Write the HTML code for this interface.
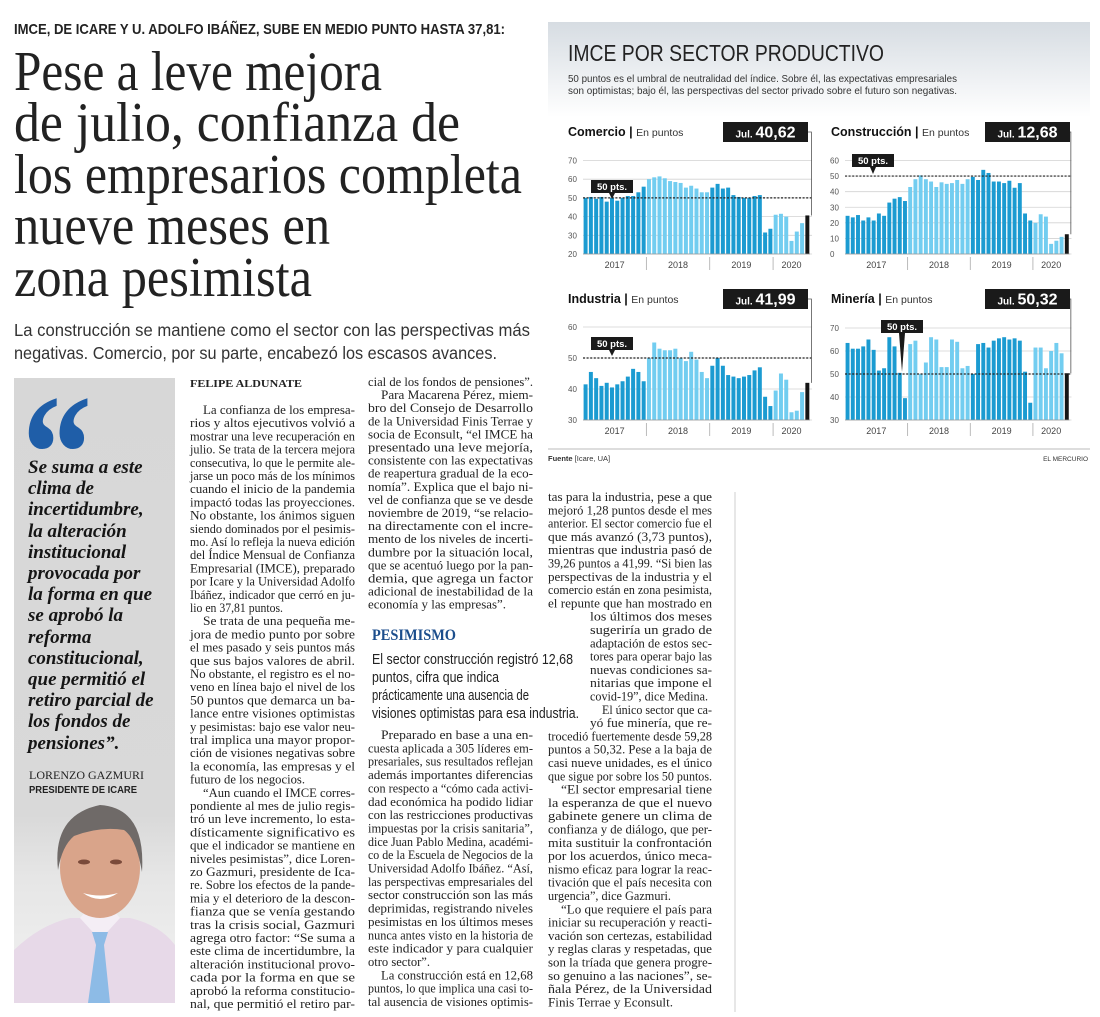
<!DOCTYPE html>
<html><head><meta charset="utf-8"><style>
html,body{margin:0;padding:0;background:#fff;width:1100px;height:1017px;overflow:hidden}
svg{display:block}
.b{font-family:"Liberation Serif",serif;font-size:12.6px;fill:#222}
.q{font-family:"Liberation Serif",serif;font-size:19px;font-weight:bold;font-style:italic;fill:#151515}
.s{font-family:"Liberation Sans",sans-serif}
</style></head><body>
<svg id="page" width="1100" height="1017" viewBox="0 0 1100 1017" xmlns="http://www.w3.org/2000/svg">
<defs>
<linearGradient id="hg" x1="0" y1="0" x2="0" y2="1"><stop offset="0" stop-color="#d6dce2"/><stop offset="1" stop-color="#ffffff"/></linearGradient>
<linearGradient id="qg" x1="0" y1="0" x2="0" y2="1"><stop offset="0" stop-color="#d7d7d7"/><stop offset="0.7" stop-color="#d9d9d9"/><stop offset="0.8" stop-color="#e6e6e6"/><stop offset="1" stop-color="#f2f2f2"/></linearGradient>
</defs>

<!-- Headline block -->
<text class="s" x="14" y="34" font-size="15" font-weight="bold" fill="#222" textLength="491" lengthAdjust="spacingAndGlyphs">IMCE, DE ICARE Y U. ADOLFO IBÁÑEZ, SUBE EN MEDIO PUNTO HASTA 37,81:</text>
<g font-family="Liberation Serif, serif" font-size="56" fill="#222">
<text x="14" y="90" textLength="368" lengthAdjust="spacingAndGlyphs">Pese a leve mejora</text>
<text x="14" y="141" textLength="446" lengthAdjust="spacingAndGlyphs">de julio, confianza de</text>
<text x="14" y="193" textLength="508" lengthAdjust="spacingAndGlyphs">los empresarios completa</text>
<text x="14" y="244" textLength="316" lengthAdjust="spacingAndGlyphs">nueve meses en</text>
<text x="14" y="296" textLength="298" lengthAdjust="spacingAndGlyphs">zona pesimista</text>
</g>
<g class="s" font-size="17.5" fill="#333">
<text x="14" y="336" textLength="516" lengthAdjust="spacingAndGlyphs">La construcción se mantiene como el sector con las perspectivas más</text>
<text x="14" y="359" textLength="483" lengthAdjust="spacingAndGlyphs">negativas. Comercio, por su parte, encabezó los escasos avances.</text>
</g>

<!-- Quote box -->
<rect x="14" y="378" width="161" height="625" fill="url(#qg)"/>
<text x="22" y="510" font-family="Liberation Serif, serif" font-weight="bold" font-size="168" fill="#1f5ea8" textLength="70" lengthAdjust="spacingAndGlyphs">“</text>
<g class="q">
<text x="28" y="473">Se suma a este</text>
<text x="28" y="494">clima de</text>
<text x="28" y="515">incertidumbre,</text>
<text x="28" y="537">la alteración</text>
<text x="28" y="558">institucional</text>
<text x="28" y="579">provocada por</text>
<text x="28" y="600">la forma en que</text>
<text x="28" y="621">se aprobó la</text>
<text x="28" y="643">reforma</text>
<text x="28" y="664">constitucional,</text>
<text x="28" y="685">que permitió el</text>
<text x="28" y="706">retiro parcial de</text>
<text x="28" y="727">los fondos de</text>
<text x="28" y="749">pensiones”.</text>
</g>
<text x="29" y="779" font-family="Liberation Serif, serif" font-size="11.5" fill="#222" textLength="115" lengthAdjust="spacingAndGlyphs">LORENZO GAZMURI</text>
<text class="s" x="29" y="793" font-size="10" font-weight="bold" fill="#222" textLength="108" lengthAdjust="spacingAndGlyphs">PRESIDENTE DE ICARE</text>
<g>
<path d="M14 950 Q40 925 70 918 L130 918 Q160 925 175 945 L175 1003 L14 1003 Z" fill="#e7d9e8"/>
<path d="M80 918 L100 940 L120 918 L115 912 L85 912 Z" fill="#f4eef5"/>
<path d="M92 932 L108 932 L104 945 L110 1003 L88 1003 L96 945 Z" fill="#8dbbe6"/>
<ellipse cx="100" cy="868" rx="40" ry="50" fill="#d9a48a"/>
<path d="M58 870 Q52 815 100 805 Q146 808 142 872 Q136 838 124 830 Q100 826 74 836 Q62 846 58 870 Z" fill="#6f6a68"/>
<ellipse cx="84" cy="862" rx="6" ry="2.5" fill="#7a4a3a"/>
<ellipse cx="116" cy="862" rx="6" ry="2.5" fill="#7a4a3a"/>
<path d="M83 893 Q100 905 118 893 Q100 898 83 893 Z" fill="#fff"/>
</g>

<!-- Body column 1 -->
<g class="b">
<text x="190" y="387" font-weight="bold" font-size="11" textLength="112" lengthAdjust="spacingAndGlyphs">FELIPE ALDUNATE</text>
<text x="203" y="414" textLength="152" lengthAdjust="spacingAndGlyphs">La confianza de los empresa-</text>
<text x="190" y="427.2" textLength="165" lengthAdjust="spacingAndGlyphs">rios y altos ejecutivos volvió a</text>
<text x="190" y="440.4" textLength="165" lengthAdjust="spacingAndGlyphs">mostrar una leve recuperación en</text>
<text x="190" y="453.6" textLength="165" lengthAdjust="spacingAndGlyphs">julio. Se trata de la tercera mejora</text>
<text x="190" y="466.8" textLength="165" lengthAdjust="spacingAndGlyphs">consecutiva, lo que le permite ale-</text>
<text x="190" y="480" textLength="165" lengthAdjust="spacingAndGlyphs">jarse un poco más de los mínimos</text>
<text x="190" y="493.2" textLength="165" lengthAdjust="spacingAndGlyphs">cuando el inicio de la pandemia</text>
<text x="190" y="506.4" textLength="165" lengthAdjust="spacingAndGlyphs">impactó todas las proyecciones.</text>
<text x="190" y="519.6" textLength="165" lengthAdjust="spacingAndGlyphs">No obstante, los ánimos siguen</text>
<text x="190" y="532.8" textLength="165" lengthAdjust="spacingAndGlyphs">siendo dominados por el pesimis-</text>
<text x="190" y="546" textLength="165" lengthAdjust="spacingAndGlyphs">mo. Así lo refleja la nueva edición</text>
<text x="190" y="559.2" textLength="165" lengthAdjust="spacingAndGlyphs">del Índice Mensual de Confianza</text>
<text x="190" y="572.4" textLength="165" lengthAdjust="spacingAndGlyphs">Empresarial (IMCE), preparado</text>
<text x="190" y="585.6" textLength="165" lengthAdjust="spacingAndGlyphs">por Icare y la Universidad Adolfo</text>
<text x="190" y="598.8" textLength="165" lengthAdjust="spacingAndGlyphs">Ibáñez, indicador que cerró en ju-</text>
<text x="190" y="612" textLength="93" lengthAdjust="spacingAndGlyphs">lio en 37,81 puntos.</text>
<text x="203" y="625.2" textLength="152" lengthAdjust="spacingAndGlyphs">Se trata de una pequeña me-</text>
<text x="190" y="638.4" textLength="165" lengthAdjust="spacingAndGlyphs">jora de medio punto por sobre</text>
<text x="190" y="651.6" textLength="165" lengthAdjust="spacingAndGlyphs">el mes pasado y seis puntos más</text>
<text x="190" y="664.8" textLength="165" lengthAdjust="spacingAndGlyphs">que sus bajos valores de abril.</text>
<text x="190" y="678" textLength="165" lengthAdjust="spacingAndGlyphs">No obstante, el registro es el no-</text>
<text x="190" y="691.2" textLength="165" lengthAdjust="spacingAndGlyphs">veno en línea bajo el nivel de los</text>
<text x="190" y="704.4" textLength="165" lengthAdjust="spacingAndGlyphs">50 puntos que demarca un ba-</text>
<text x="190" y="717.6" textLength="165" lengthAdjust="spacingAndGlyphs">lance entre visiones optimistas</text>
<text x="190" y="730.8" textLength="165" lengthAdjust="spacingAndGlyphs">y pesimistas: bajo ese valor neu-</text>
<text x="190" y="744" textLength="165" lengthAdjust="spacingAndGlyphs">tral implica una mayor propor-</text>
<text x="190" y="757.2" textLength="165" lengthAdjust="spacingAndGlyphs">ción de visiones negativas sobre</text>
<text x="190" y="770.4" textLength="165" lengthAdjust="spacingAndGlyphs">la economía, las empresas y el</text>
<text x="190" y="783.6" textLength="115" lengthAdjust="spacingAndGlyphs">futuro de los negocios.</text>
<text x="203" y="796.8" textLength="152" lengthAdjust="spacingAndGlyphs">“Aun cuando el IMCE corres-</text>
<text x="190" y="810" textLength="165" lengthAdjust="spacingAndGlyphs">pondiente al mes de julio regis-</text>
<text x="190" y="823.2" textLength="165" lengthAdjust="spacingAndGlyphs">tró un leve incremento, lo esta-</text>
<text x="190" y="836.4" textLength="165" lengthAdjust="spacingAndGlyphs">dísticamente significativo es</text>
<text x="190" y="849.6" textLength="165" lengthAdjust="spacingAndGlyphs">que el indicador se mantiene en</text>
<text x="190" y="862.8" textLength="165" lengthAdjust="spacingAndGlyphs">niveles pesimistas”, dice Loren-</text>
<text x="190" y="876" textLength="165" lengthAdjust="spacingAndGlyphs">zo Gazmuri, presidente de Ica-</text>
<text x="190" y="889.2" textLength="165" lengthAdjust="spacingAndGlyphs">re. Sobre los efectos de la pande-</text>
<text x="190" y="902.4" textLength="165" lengthAdjust="spacingAndGlyphs">mia y el deterioro de la descon-</text>
<text x="190" y="915.6" textLength="165" lengthAdjust="spacingAndGlyphs">fianza que se venía gestando</text>
<text x="190" y="928.8" textLength="165" lengthAdjust="spacingAndGlyphs">tras la crisis social, Gazmuri</text>
<text x="190" y="942" textLength="165" lengthAdjust="spacingAndGlyphs">agrega otro factor: “Se suma a</text>
<text x="190" y="955.2" textLength="165" lengthAdjust="spacingAndGlyphs">este clima de incertidumbre, la</text>
<text x="190" y="968.4" textLength="165" lengthAdjust="spacingAndGlyphs">alteración institucional provo-</text>
<text x="190" y="981.6" textLength="165" lengthAdjust="spacingAndGlyphs">cada por la forma en que se</text>
<text x="190" y="994.8" textLength="165" lengthAdjust="spacingAndGlyphs">aprobó la reforma constitucio-</text>
<text x="190" y="1008" textLength="165" lengthAdjust="spacingAndGlyphs">nal, que permitió el retiro par-</text>
</g>

<!-- Body column 2 -->
<g class="b">
<text x="368" y="386" textLength="165" lengthAdjust="spacingAndGlyphs">cial de los fondos de pensiones”.</text>
<text x="381" y="399.1" textLength="152" lengthAdjust="spacingAndGlyphs">Para Macarena Pérez, miem-</text>
<text x="368" y="412.2" textLength="165" lengthAdjust="spacingAndGlyphs">bro del Consejo de Desarrollo</text>
<text x="368" y="425.3" textLength="165" lengthAdjust="spacingAndGlyphs">de la Universidad Finis Terrae y</text>
<text x="368" y="438.4" textLength="165" lengthAdjust="spacingAndGlyphs">socia de Econsult, “el IMCE ha</text>
<text x="368" y="451.5" textLength="165" lengthAdjust="spacingAndGlyphs">presentado una leve mejoría,</text>
<text x="368" y="464.6" textLength="165" lengthAdjust="spacingAndGlyphs">consistente con las expectativas</text>
<text x="368" y="477.7" textLength="165" lengthAdjust="spacingAndGlyphs">de reapertura gradual de la eco-</text>
<text x="368" y="490.8" textLength="165" lengthAdjust="spacingAndGlyphs">nomía”. Explica que el bajo ni-</text>
<text x="368" y="503.9" textLength="165" lengthAdjust="spacingAndGlyphs">vel de confianza que se ve desde</text>
<text x="368" y="517" textLength="165" lengthAdjust="spacingAndGlyphs">noviembre de 2019, “se relacio-</text>
<text x="368" y="530.1" textLength="165" lengthAdjust="spacingAndGlyphs">na directamente con el incre-</text>
<text x="368" y="543.2" textLength="165" lengthAdjust="spacingAndGlyphs">mento de los niveles de incerti-</text>
<text x="368" y="556.3" textLength="165" lengthAdjust="spacingAndGlyphs">dumbre por la situación local,</text>
<text x="368" y="569.4" textLength="165" lengthAdjust="spacingAndGlyphs">que se acentuó luego por la pan-</text>
<text x="368" y="582.5" textLength="165" lengthAdjust="spacingAndGlyphs">demia, que agrega un factor</text>
<text x="368" y="595.6" textLength="165" lengthAdjust="spacingAndGlyphs">adicional de inestabilidad de la</text>
<text x="368" y="608.7" textLength="138" lengthAdjust="spacingAndGlyphs">economía y las empresas”.</text>

<text x="381" y="739" textLength="152" lengthAdjust="spacingAndGlyphs">Preparado en base a una en-</text>
<text x="368" y="752.35" textLength="165" lengthAdjust="spacingAndGlyphs">cuesta aplicada a 305 líderes em-</text>
<text x="368" y="765.7" textLength="165" lengthAdjust="spacingAndGlyphs">presariales, sus resultados reflejan</text>
<text x="368" y="779.05" textLength="165" lengthAdjust="spacingAndGlyphs">además importantes diferencias</text>
<text x="368" y="792.4" textLength="165" lengthAdjust="spacingAndGlyphs">con respecto a “cómo cada activi-</text>
<text x="368" y="805.75" textLength="165" lengthAdjust="spacingAndGlyphs">dad económica ha podido lidiar</text>
<text x="368" y="819.1" textLength="165" lengthAdjust="spacingAndGlyphs">con las restricciones productivas</text>
<text x="368" y="832.45" textLength="165" lengthAdjust="spacingAndGlyphs">impuestas por la crisis sanitaria”,</text>
<text x="368" y="845.8" textLength="165" lengthAdjust="spacingAndGlyphs">dice Juan Pablo Medina, académi-</text>
<text x="368" y="859.15" textLength="165" lengthAdjust="spacingAndGlyphs">co de la Escuela de Negocios de la</text>
<text x="368" y="872.5" textLength="165" lengthAdjust="spacingAndGlyphs">Universidad Adolfo Ibáñez. “Así,</text>
<text x="368" y="885.85" textLength="165" lengthAdjust="spacingAndGlyphs">las perspectivas empresariales del</text>
<text x="368" y="899.2" textLength="165" lengthAdjust="spacingAndGlyphs">sector construcción son las más</text>
<text x="368" y="912.55" textLength="165" lengthAdjust="spacingAndGlyphs">deprimidas, registrando niveles</text>
<text x="368" y="925.9" textLength="165" lengthAdjust="spacingAndGlyphs">pesimistas en los últimos meses</text>
<text x="368" y="939.25" textLength="165" lengthAdjust="spacingAndGlyphs">nunca antes visto en la historia de</text>
<text x="368" y="952.6" textLength="165" lengthAdjust="spacingAndGlyphs">este indicador y para cualquier</text>
<text x="368" y="965.95" textLength="62" lengthAdjust="spacingAndGlyphs">otro sector”.</text>
<text x="381" y="979.3" textLength="152" lengthAdjust="spacingAndGlyphs">La construcción está en 12,68</text>
<text x="368" y="992.65" textLength="165" lengthAdjust="spacingAndGlyphs">puntos, lo que implica una casi to-</text>
<text x="368" y="1006" textLength="165" lengthAdjust="spacingAndGlyphs">tal ausencia de visiones optimis-</text>
</g>

<!-- Pesimismo box -->
<g>
<text x="372" y="640" font-family="Liberation Serif, serif" font-weight="bold" font-size="16" fill="#1c4e8c" textLength="84" lengthAdjust="spacingAndGlyphs">PESIMISMO</text>
<g class="s" font-size="14.5" fill="#222">
<text x="372" y="664" textLength="201" lengthAdjust="spacingAndGlyphs">El sector construcción registró 12,68</text>
<text x="372" y="682" textLength="127" lengthAdjust="spacingAndGlyphs">puntos, cifra que indica</text>
<text x="372" y="700" textLength="157" lengthAdjust="spacingAndGlyphs">prácticamente una ausencia de</text>
<text x="372" y="718" textLength="207" lengthAdjust="spacingAndGlyphs">visiones optimistas para esa industria.</text>
</g>
</g>

<!-- Body column 3 -->
<line x1="735" y1="492" x2="735" y2="1012" stroke="#cfcfcf" stroke-width="1"/>
<g class="b">
<text x="548" y="501" textLength="164" lengthAdjust="spacingAndGlyphs">tas para la industria, pese a que</text>
<text x="548" y="514.3" textLength="164" lengthAdjust="spacingAndGlyphs">mejoró 1,28 puntos desde el mes</text>
<text x="548" y="527.6" textLength="164" lengthAdjust="spacingAndGlyphs">anterior. El sector comercio fue el</text>
<text x="548" y="540.9" textLength="164" lengthAdjust="spacingAndGlyphs">que más avanzó (3,73 puntos),</text>
<text x="548" y="554.2" textLength="164" lengthAdjust="spacingAndGlyphs">mientras que industria pasó de</text>
<text x="548" y="567.5" textLength="164" lengthAdjust="spacingAndGlyphs">39,26 puntos a 41,99. “Si bien las</text>
<text x="548" y="580.8" textLength="164" lengthAdjust="spacingAndGlyphs">perspectivas de la industria y el</text>
<text x="548" y="594.1" textLength="164" lengthAdjust="spacingAndGlyphs">comercio están en zona pesimista,</text>
<text x="548" y="607.4" textLength="164" lengthAdjust="spacingAndGlyphs">el repunte que han mostrado en</text>
<text x="590" y="620.7" textLength="122" lengthAdjust="spacingAndGlyphs">los últimos dos meses</text>
<text x="590" y="634" textLength="122" lengthAdjust="spacingAndGlyphs">sugeriría un grado de</text>
<text x="590" y="647.3" textLength="122" lengthAdjust="spacingAndGlyphs">adaptación de estos sec-</text>
<text x="590" y="660.6" textLength="122" lengthAdjust="spacingAndGlyphs">tores para operar bajo las</text>
<text x="590" y="673.9" textLength="122" lengthAdjust="spacingAndGlyphs">nuevas condiciones sa-</text>
<text x="590" y="687.2" textLength="122" lengthAdjust="spacingAndGlyphs">nitarias que impone el</text>
<text x="590" y="700.5" textLength="118" lengthAdjust="spacingAndGlyphs">covid-19”, dice Medina.</text>
<text x="602" y="713.8" textLength="110" lengthAdjust="spacingAndGlyphs">El único sector que ca-</text>
<text x="590" y="727.1" textLength="122" lengthAdjust="spacingAndGlyphs">yó fue minería, que re-</text>
<text x="548" y="740.4" textLength="164" lengthAdjust="spacingAndGlyphs">trocedió fuertemente desde 59,28</text>
<text x="548" y="753.7" textLength="164" lengthAdjust="spacingAndGlyphs">puntos a 50,32. Pese a la baja de</text>
<text x="548" y="767" textLength="164" lengthAdjust="spacingAndGlyphs">casi nueve unidades, es el único</text>
<text x="548" y="780.3" textLength="164" lengthAdjust="spacingAndGlyphs">que sigue por sobre los 50 puntos.</text>
<text x="561" y="793.6" textLength="151" lengthAdjust="spacingAndGlyphs">“El sector empresarial tiene</text>
<text x="548" y="806.9" textLength="164" lengthAdjust="spacingAndGlyphs">la esperanza de que el nuevo</text>
<text x="548" y="820.2" textLength="164" lengthAdjust="spacingAndGlyphs">gabinete genere un clima de</text>
<text x="548" y="833.5" textLength="164" lengthAdjust="spacingAndGlyphs">confianza y de diálogo, que per-</text>
<text x="548" y="846.8" textLength="164" lengthAdjust="spacingAndGlyphs">mita sustituir la confrontación</text>
<text x="548" y="860.1" textLength="164" lengthAdjust="spacingAndGlyphs">por los acuerdos, único meca-</text>
<text x="548" y="873.4" textLength="164" lengthAdjust="spacingAndGlyphs">nismo eficaz para lograr la reac-</text>
<text x="548" y="886.7" textLength="164" lengthAdjust="spacingAndGlyphs">tivación que el país necesita con</text>
<text x="548" y="900" textLength="123" lengthAdjust="spacingAndGlyphs">urgencia”, dice Gazmuri.</text>
<text x="561" y="913.3" textLength="151" lengthAdjust="spacingAndGlyphs">“Lo que requiere el país para</text>
<text x="548" y="926.6" textLength="164" lengthAdjust="spacingAndGlyphs">iniciar su recuperación y reacti-</text>
<text x="548" y="939.9" textLength="164" lengthAdjust="spacingAndGlyphs">vación son certezas, estabilidad</text>
<text x="548" y="953.2" textLength="164" lengthAdjust="spacingAndGlyphs">y reglas claras y respetadas, que</text>
<text x="548" y="966.5" textLength="164" lengthAdjust="spacingAndGlyphs">son la tríada que genera progre-</text>
<text x="548" y="979.8" textLength="164" lengthAdjust="spacingAndGlyphs">so genuino a las naciones”, se-</text>
<text x="548" y="993.1" textLength="164" lengthAdjust="spacingAndGlyphs">ñala Pérez, de la Universidad</text>
<text x="548" y="1006.4" textLength="125" lengthAdjust="spacingAndGlyphs">Finis Terrae y Econsult.</text>
</g>

<!-- Infographic header -->
<rect x="548" y="22" width="542" height="95" fill="url(#hg)"/>
<text class="s" x="568" y="61" font-size="23" fill="#222" textLength="316" lengthAdjust="spacingAndGlyphs">IMCE POR SECTOR PRODUCTIVO</text>
<text class="s" font-size="10.5" fill="#333">
<tspan x="568" y="82" textLength="389" lengthAdjust="spacingAndGlyphs">50 puntos es el umbral de neutralidad del índice. Sobre él, las expectativas empresariales</tspan>
<tspan x="568" y="94" textLength="389" lengthAdjust="spacingAndGlyphs">son optimistas; bajo él, las perspectivas del sector privado sobre el futuro son negativas.</tspan>
</text>
<g class="s" fill="#111">
<text x="568" y="136" font-size="12.5" font-weight="bold">Comercio <tspan font-weight="bold">|</tspan> <tspan font-weight="normal" font-size="10.5" fill="#333">En puntos</tspan></text>
<text x="831" y="136" font-size="12.5" font-weight="bold">Construcción <tspan>|</tspan> <tspan font-weight="normal" font-size="10.5" fill="#333">En puntos</tspan></text>
<text x="568" y="303" font-size="12.5" font-weight="bold">Industria <tspan>|</tspan> <tspan font-weight="normal" font-size="10.5" fill="#333">En puntos</tspan></text>
<text x="831" y="303" font-size="12.5" font-weight="bold">Minería <tspan>|</tspan> <tspan font-weight="normal" font-size="10.5" fill="#333">En puntos</tspan></text>
</g>
<g id="charts"></g>
<line x1="548" y1="449" x2="1090" y2="449" stroke="#bbb" stroke-width="1"/>
<text class="s" x="548" y="461" font-size="7.5" fill="#333"><tspan font-weight="bold">Fuente</tspan> [Icare, UA]</text>
<text class="s" x="1088" y="461" font-size="6.5" fill="#333" text-anchor="end">EL MERCURIO</text>
</svg>

<script>
const years = ["2017", "2018", "2019", "2020"];
const comercioValues = [50,50.5,49.5,50.5,48,50,48.5,50,51,51,53,56, 60,61,61.5,60.5,59,58.5,58,55.5,56.5,55,53,53, 55.5,57.5,55,55.5,51.5,50.5,50,50,51,51.5,31.5,33.5, 41,41.5,40,27,32,36.5,40.62];
const construccionValues = [24.5,23.5,25,21.5,23.5,21.5,26,24.5,33,35.5,36.5,34, 43,48,50.5,48,46.5,43,46,45,45.5,47.5,45,48, 49.5,47.5,54,52,46.5,46.5,45.5,47,42.5,45.5,26,21.5, 20,25.5,24,6.5,8.5,11,12.68];
const industriaValues = [41.5,45.5,43.5,41,42,40.5,41.5,42.5,44,46.5,45.5,42.5, 50,55,53,52.5,52.5,53,50,49,52,49.5,45.5,43.5, 47.5,50,47.5,44.5,44,43.5,44,44.5,46,47,37.5,34.5, 39.5,45,43,32.5,33,39,41.99];
const mineriaValues = [63.5,61,61,62,65,60.5,51.5,52.5,66,62,50.5,39.5, 63,64.5,50,55,66,65,53,53,65,64,52.5,53.5, 50,63,63.5,61.5,64.5,65.5,66,65,65.5,64.5,51,37.5, 61.5,61.5,52.5,60,63.5,59,50.32];
const comercioTicks = [20,30,40,50,60,70];
const construccionTicks = [0,10,20,30,40,50,60];
const industriaTicks = [30,40,50,60];
const mineriaTicks = [30,40,50,60,70];
const latestLabels = ["40,62", "12,68", "41,99", "50,32"];
const threshold = 50;

const NS = "http://www.w3.org/2000/svg";
const root = document.getElementById("charts");
function mk(tag, attrs, parent) {
  const e = document.createElementNS(NS, tag);
  for (const k in attrs) e.setAttribute(k, attrs[k]);
  (parent || root).appendChild(e);
  return e;
}
function drawChart(name, values, ticks, label, geo) {
  const g = mk("g", {});
  
  
  const min = ticks[0], max = ticks[ticks.length - 1];
  const y = v => geo.yBot - (v - min) / (max - min) * (geo.yBot - geo.yTop);
  const x = i => geo.x0 + i * geo.step;
  ticks.forEach(t => {
    const ln = mk("line", {x1: geo.x0, x2: geo.x0 + geo.step * values.length + 2, y1: y(t), y2: y(t), stroke: "#d2d2d2", "stroke-width": 0.8}, g);
    
    
    const tx = mk("text", {x: geo.x0 - 15, y: y(t) + 3, "font-family": "Liberation Sans, sans-serif", "font-size": 8, fill: "#555"}, g);
    
    
    tx.textContent = t;
  });
  values.forEach((v, i) => {
    const last = i === values.length - 1;
    const col = last ? "#151515" : (Math.floor(i / 12) % 2 === 0 ? "#1b9bd1" : "#72cdf0");
    const r = mk("rect", {x: x(i) + 0.6, y: Math.min(y(v), geo.yBot), width: geo.step - 1.3, height: Math.abs(geo.yBot - y(v)), fill: col}, g);
    
    
  });
  const ax = mk("line", {x1: geo.x0, x2: x(values.length), y1: geo.yBot, y2: geo.yBot, stroke: "#999", "stroke-width": 0.8}, g);
  
  
  years.forEach((yr, k) => {
    const start = k * 12, n = Math.min(12, values.length - start);
    const tx = mk("text", {x: x(start + n / 2), y: geo.yBot + 14, "text-anchor": "middle", "font-family": "Liberation Sans, sans-serif", "font-size": 9, fill: "#444"}, g);
    
    
    tx.textContent = yr;
    if (k > 0) {
      const sep = mk("line", {x1: x(start), x2: x(start), y1: geo.yBot + 3, y2: geo.yBot + 16, stroke: "#aaa", "stroke-width": 0.8}, g);
      
      
    }
  });
  const ty = y(threshold);
  const th = mk("line", {x1: geo.x0, x2: x(values.length) + 2, y1: ty, y2: ty, stroke: "#222", "stroke-width": 1.2, "stroke-dasharray": "2,1.6"}, g);
  
  
  const cx = geo.calloutX, cb = geo.calloutY;
  const cr = mk("rect", {x: cx - 21, y: cb - 13, width: 42, height: 13, fill: "#1a1a1a"}, g);
  
  
  const tip = mk("path", {d: `M${cx - 3} ${cb} L${cx + 3} ${cb} L${cx} ${geo.calloutTip} Z`, fill: "#1a1a1a"}, g);
  
  
  const ct = mk("text", {x: cx, y: cb - 3, "text-anchor": "middle", "font-family": "Liberation Sans, sans-serif", "font-size": 9.5, "font-weight": "bold", fill: "#fff"}, g);
  
  
  ct.textContent = "50 pts.";
  const lastX = x(values.length - 1) + geo.step / 2;
  const conn = mk("polyline", {points: `${geo.boxX + 85},${geo.boxY + 10} ${lastX + 4},${geo.boxY + 10} ${lastX + 4},${y(values[values.length - 1])}`, fill: "none", stroke: "#555", "stroke-width": 0.8}, g);
  
  
  const lb = mk("rect", {x: geo.boxX, y: geo.boxY, width: 85, height: 20, fill: "#1a1a1a"}, g);
  
  
  const lt = mk("text", {x: geo.boxX + 42.5, y: geo.boxY + 15.5, "text-anchor": "middle", "font-family": "Liberation Sans, sans-serif", "font-weight": "bold", fill: "#fff", "font-size": 16}, g);
  
  
  const t1 = mk("tspan", {"font-size": 10}, lt); t1.textContent = "Jul. ";
  const t2 = mk("tspan", {}, lt); t2.textContent = label;
}
drawChart("comercio", comercioValues, comercioTicks, latestLabels[0],
  {x0: 583, step: 5.28, yTop: 160.5, yBot: 254, boxX: 723, boxY: 122, calloutX: 612, calloutY: 193, calloutTip: 199});
drawChart("construccion", construccionValues, construccionTicks, latestLabels[1],
  {x0: 845, step: 5.22, yTop: 160.5, yBot: 254, boxX: 985, boxY: 122, calloutX: 873, calloutY: 167, calloutTip: 174});
drawChart("industria", industriaValues, industriaTicks, latestLabels[2],
  {x0: 583, step: 5.28, yTop: 327, yBot: 420, boxX: 723, boxY: 289, calloutX: 612, calloutY: 350, calloutTip: 356});
drawChart("mineria", mineriaValues, mineriaTicks, latestLabels[3],
  {x0: 845, step: 5.22, yTop: 328, yBot: 420, boxX: 985, boxY: 289, calloutX: 902, calloutY: 333, calloutTip: 372});
</script>
</body></html>
